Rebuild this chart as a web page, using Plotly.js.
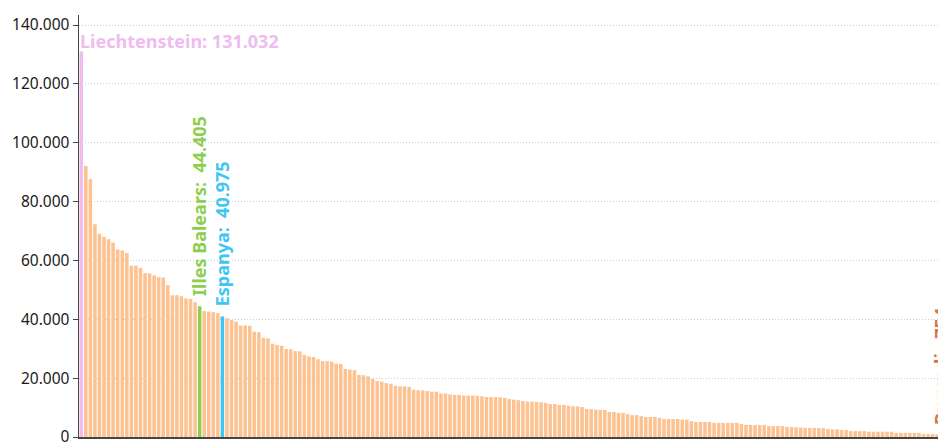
<!DOCTYPE html>
<html>
<head>
<meta charset="utf-8">
<script src="https://cdn.plot.ly/plotly-3.0.1.min.js"></script>
<style>
html, body { margin: 0; padding: 0; overflow: hidden; background: #fff; }
#chart { width: 944px; height: 442px; }
</style>
</head>
<body>
<div id="chart"></div>
<script>
// Values (sorted descending), one per territory
const values = [
  131032, 92100, 87700, 72300, 69100, 68000, 67200, 66100, 63700, 63400,
  62500, 58200, 58200, 57400, 55700, 55600, 54900, 54300, 54200, 51600,
  48200, 48200, 47800, 47100, 46900, 45800, 44405, 42800, 42600, 42400,
  42100, 40975, 40400, 39800, 39200, 37900, 37900, 37800, 35800, 35600,
  33700, 33500, 31700, 31300, 31000, 29900, 29800, 29200, 29100, 27900,
  27400, 27200, 26400, 25800, 25800, 25600, 24900, 24800, 23100, 22900,
  22700, 21100, 21000, 20600, 19700, 19000, 18800, 18300, 18100, 17400,
  17200, 17200, 17000, 16100, 15900, 15900, 15600, 15400, 15400, 14800,
  14800, 14500, 14300, 14300, 14100, 14100, 14100, 14000, 13800, 13600,
  13600, 13600, 13500, 13300, 12900, 12700, 12500, 12200, 12000, 12000,
  11900, 11800, 11600, 11200, 11200, 10900, 10900, 10600, 10400, 10400,
  10200, 9500, 9500, 9300, 9200, 9200, 8500, 8500, 8200, 8200,
  7800, 7400, 7400, 7100, 6800, 6800, 6800, 6500, 6100, 6100,
  6100, 6100, 5900, 5900, 5400, 5100, 5100, 5100, 5100, 4800,
  4800, 4800, 4800, 4800, 4800, 4400, 4100, 4100, 4100, 4100,
  4100, 3700, 3700, 3700, 3700, 3400, 3400, 3300, 3200, 3100,
  3100, 3100, 3100, 3100, 2700, 2600, 2600, 2400, 2400, 2000,
  2000, 2000, 2000, 1800, 1800, 1800, 1800, 1800, 1800, 1400,
  1400, 1400, 1400, 1400, 1400, 1000, 1000, 1000, 900, 754
];

// Named territories that are visible in the picture (by rank position)
const highlightNames = ["Liechtenstein", "Illes Balears", "Espanya", "Burundi"];
const highlightRanks = [0, 26, 31, 189];
const highlightLabels = ["Liechtenstein: 131.032", "Illes Balears:  44.405", "Espanya:  40.975", "Burundi:  754"];

// Category labels (unreadable names are numbered)
const categories = values.map((v, i) => {
  const k = highlightRanks.indexOf(i);
  return k >= 0 ? highlightNames[k] : ("territori " + (i + 1));
});

const yTicks = [0, 20000, 40000, 60000, 80000, 100000, 120000, 140000];

const baseColor = "#fcc291";
const hlColors = ["#efbcef", "#8dce4e", "#3ec5f2", "#d4774b"];
const hlAngles = [0, -90, -90, -90];

const colors = values.map((v, i) => {
  const k = highlightRanks.indexOf(i);
  return k >= 0 ? hlColors[k] : baseColor;
});

const trace = {
  type: "bar",
  x: categories,
  y: values,
  marker: { color: colors, line: { width: 0 } },
  hoverinfo: "x+y"
};

const annotations = highlightRanks.map((r, k) => {
  const horiz = hlAngles[k] === 0;
  return {
    x: categories[r],
    y: values[r],
    xref: "x", yref: "y",
    text: highlightLabels[k],
    showarrow: false,
    textangle: hlAngles[k],
    xanchor: horiz ? "left" : "center",
    yanchor: "bottom",
    xshift: horiz ? -3 : 0,
    yshift: horiz ? -4 : 8,
    font: { family: "Noto Sans, Open Sans, sans-serif", size: 18, color: hlColors[k], weight: 700 }
  };
});

const layout = {
  width: 944,
  height: 442,
  margin: { l: 79, r: 0, t: 15, b: 5, pad: 0 },
  paper_bgcolor: "#fff",
  plot_bgcolor: "#fff",
  separators: ",.",
  showlegend: false,
  bargap: 0.22,
  font: { family: "Noto Sans, Open Sans, sans-serif", size: 15, color: "#222" },
  xaxis: {
    type: "category",
    range: [-0.5, values.length - 0.5],
    showticklabels: false,
    ticks: "",
    showgrid: false,
    zeroline: false,
    showline: true,
    linecolor: "#444",
    linewidth: 1.5
  },
  yaxis: {
    range: [0, 143400],
    tickvals: yTicks,
    tickformat: ",.0f",
    ticks: "outside",
    ticklen: 5,
    tickcolor: "#444",
    ticklabeloverflow: "allow",
    showline: true,
    linecolor: "#444",
    linewidth: 1.5,
    showgrid: true,
    gridcolor: "#cccccc",
    griddash: "1px,2px",
    gridwidth: 1,
    zeroline: false,
    tickfont: { size: 15.5, color: "#1a1a1a" }
  },
  annotations: annotations
};

Plotly.newPlot("chart", [trace], layout, { displayModeBar: false, staticPlot: true });
</script>
</body>
</html>
